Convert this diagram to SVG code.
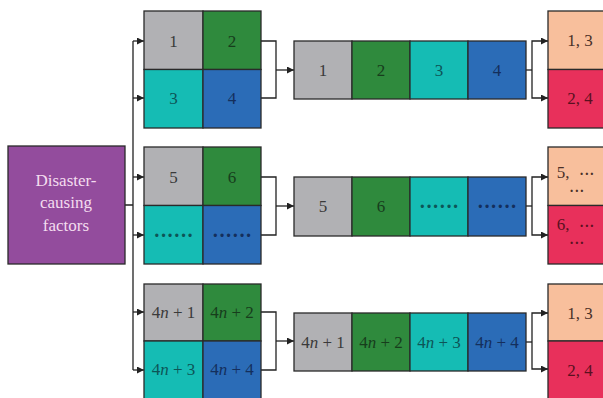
<svg xmlns="http://www.w3.org/2000/svg" width="603" height="398" viewBox="0 0 603 398" font-family="'Liberation Serif', 'DejaVu Serif', serif">
<defs>
<marker id="ah" viewBox="0 0 10 10" refX="10" refY="5" markerWidth="7" markerHeight="7" markerUnits="userSpaceOnUse" orient="auto"><path d="M0,0 L10,5 L0,10 z" fill="#222"/></marker>
<style>
.c{stroke:#2a2a2a;stroke-width:1.3}
.g{fill:#b1b1b4}.gr{fill:#2f8a3d}.cy{fill:#15bcb4}.bl{fill:#2b6cb7}.pe{fill:#f8bf9c}.rd{fill:#e8305b}.pu{fill:#934c9d}
text{font-family:'Liberation Serif','DejaVu Serif',serif;font-size:17px;text-anchor:middle;dominant-baseline:central}
.tg{fill:#3a3a3a}.tgr{fill:#173d1c}.tcy{fill:#0d5557}.tbl{fill:#142f5c}.tpe{fill:#4a3028}.trd{fill:#5a1020}.tpu{fill:#f3dcef}
.dots{font-weight:bold;font-size:20px}
.sd{font-weight:bold;font-size:14px;letter-spacing:0.5px}
.ln{fill:none;stroke:#222;stroke-width:1.3}
.ar{fill:none;stroke:#222;stroke-width:1.3;marker-end:url(#ah)}
</style>
</defs>
<rect width="603" height="398" fill="#fff"/>
<g id="connectors">
<path class="ln" d="M125,205 H133 M133,41 V370"/>
<path class="ar" d="M133,41 H144"/><path class="ar" d="M133,98 H144"/>
<path class="ar" d="M133,177 H144"/><path class="ar" d="M133,235 H144"/>
<path class="ar" d="M133,312 H144"/><path class="ar" d="M133,370 H144"/>
<path class="ln" d="M261,41 H276 V98 H261"/><path class="ar" d="M276,70 H294"/>
<path class="ln" d="M261,177 H276 V235 H261"/><path class="ar" d="M276,206 H294"/>
<path class="ln" d="M261,312 H276 V370 H261"/><path class="ar" d="M276,341 H294"/>
<path class="ln" d="M526,70 H532"/><path class="ar" d="M532,70 V41 H548"/><path class="ar" d="M532,70 V98 H548"/>
<path class="ln" d="M526,206 H532"/><path class="ar" d="M532,206 V177 H548"/><path class="ar" d="M532,206 V235 H548"/>
<path class="ln" d="M526,342 H532"/><path class="ar" d="M532,342 V313 H548"/><path class="ar" d="M532,342 V369 H548"/>
</g>
<g id="factors">
<rect class="pu c" x="8" y="146" width="117" height="118"/>
<text class="tpu" x="66" y="180">Disaster-</text>
<text class="tpu" x="66" y="202">causing</text>
<text class="tpu" x="66" y="225">factors</text>
</g>
<g id="grid1">
<rect class="g c" x="144" y="11" width="59" height="58.5"/><rect class="gr c" x="203" y="11" width="58" height="58.5"/>
<rect class="cy c" x="144" y="69.5" width="59" height="58.5"/><rect class="bl c" x="203" y="69.5" width="58" height="58.5"/>
<text class="tg" x="173.5" y="41">1</text><text class="tgr" x="232" y="41">2</text>
<text class="tcy" x="173.5" y="98">3</text><text class="tbl" x="232" y="98">4</text>
</g>
<g id="strip1">
<rect class="g c" x="294" y="41" width="58" height="58"/><rect class="gr c" x="352" y="41" width="58" height="58"/>
<rect class="cy c" x="410" y="41" width="58" height="58"/><rect class="bl c" x="468" y="41" width="58" height="58"/>
<text class="tg" x="323" y="70">1</text><text class="tgr" x="381" y="70">2</text>
<text class="tcy" x="439" y="70">3</text><text class="tbl" x="497" y="70">4</text>
</g>
<g id="out1">
<rect class="pe c" x="548" y="11" width="64" height="58.5"/><rect class="rd c" x="548" y="69.5" width="64" height="58.5"/>
<text class="tpe" x="580" y="40">1, 3</text><text class="trd" x="580" y="98">2, 4</text>
</g>
<g id="grid2">
<rect class="g c" x="144" y="147" width="59" height="58.5"/><rect class="gr c" x="203" y="147" width="58" height="58.5"/>
<rect class="cy c" x="144" y="205.5" width="59" height="58.5"/><rect class="bl c" x="203" y="205.5" width="58" height="58.5"/>
<text class="tg" x="173.5" y="177">5</text><text class="tgr" x="232" y="177">6</text>
<text class="tcy dots" x="173.5" y="235">······</text><text class="tbl dots" x="232" y="235">······</text>
</g>
<g id="strip2">
<rect class="g c" x="294" y="177" width="58" height="59"/><rect class="gr c" x="352" y="177" width="58" height="59"/>
<rect class="cy c" x="410" y="177" width="58" height="59"/><rect class="bl c" x="468" y="177" width="58" height="59"/>
<text class="tg" x="323" y="206">5</text><text class="tgr" x="381" y="206">6</text>
<text class="tcy dots" x="439" y="206">······</text><text class="tbl dots" x="497" y="206">······</text>
</g>
<g id="out2">
<rect class="pe c" x="548" y="147" width="64" height="58.5"/><rect class="rd c" x="548" y="205.5" width="64" height="58.5"/>
<text class="tpe" x="563" y="172">5,</text><text class="tpe sd" x="587" y="174">···</text><text class="tpe sd" x="577" y="191">···</text>
<text class="trd" x="563" y="224">6,</text><text class="trd sd" x="587" y="226">···</text><text class="trd sd" x="577" y="243">···</text>
</g>
<g id="grid3">
<rect class="g c" x="144" y="284" width="59" height="57"/><rect class="gr c" x="203" y="284" width="58" height="57"/>
<rect class="cy c" x="144" y="341" width="59" height="58"/><rect class="bl c" x="203" y="341" width="58" height="58"/>
<text class="tg" x="173.5" y="312">4<tspan font-style="italic">n</tspan> + 1</text><text class="tgr" x="232" y="312">4<tspan font-style="italic">n</tspan> + 2</text>
<text class="tcy" x="173.5" y="369">4<tspan font-style="italic">n</tspan> + 3</text><text class="tbl" x="232" y="369">4<tspan font-style="italic">n</tspan> + 4</text>
</g>
<g id="strip3">
<rect class="g c" x="294" y="313" width="58" height="58"/><rect class="gr c" x="352" y="313" width="58" height="58"/>
<rect class="cy c" x="410" y="313" width="58" height="58"/><rect class="bl c" x="468" y="313" width="58" height="58"/>
<text class="tg" x="323" y="342">4<tspan font-style="italic">n</tspan> + 1</text><text class="tgr" x="381" y="342">4<tspan font-style="italic">n</tspan> + 2</text>
<text class="tcy" x="439" y="342">4<tspan font-style="italic">n</tspan> + 3</text><text class="tbl" x="497" y="342">4<tspan font-style="italic">n</tspan> + 4</text>
</g>
<g id="out3">
<rect class="pe c" x="548" y="284" width="64" height="57"/><rect class="rd c" x="548" y="341" width="64" height="58"/>
<text class="tpe" x="580" y="313">1, 3</text><text class="trd" x="580" y="370">2, 4</text>
</g>
</svg>
